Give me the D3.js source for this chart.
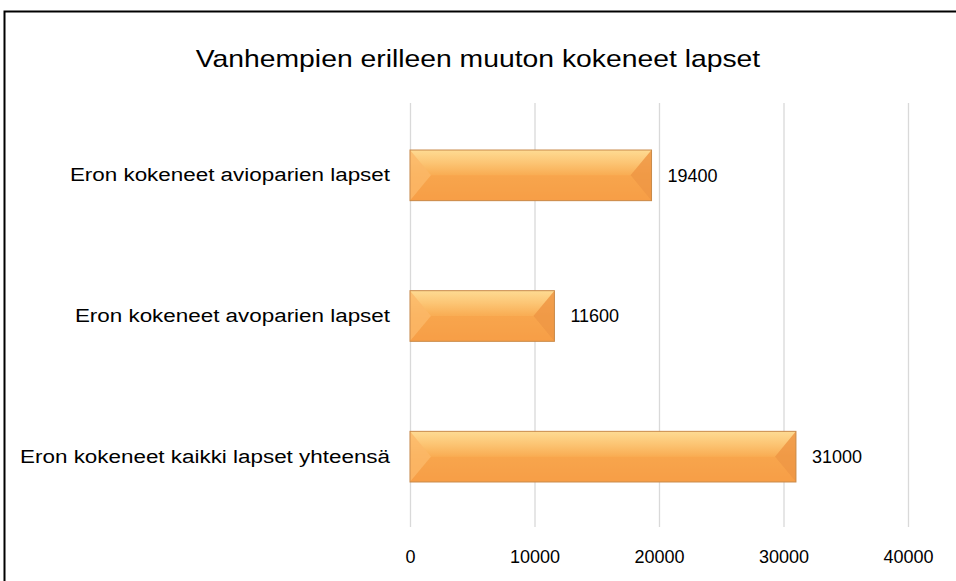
<!DOCTYPE html>
<html>
<head>
<meta charset="utf-8">
<script src="https://cdn.jsdelivr.net/npm/d3@7"></script>
<style>
  body { margin: 0; background: #fff; }
  text { font-family: "Liberation Sans", "DejaVu Sans", sans-serif; fill: #000; }
</style>
</head>
<body>
<div id="chart"></div>
<script>
// Chart data
const categories = ["Eron kokeneet avioparien lapset", "Eron kokeneet avoparien lapset", "Eron kokeneet kaikki lapset yhteensä"];
const values = [19400, 11600, 31000];
const ticks = [0, 10000, 20000, 30000, 40000];
const title = "Vanhempien erilleen muuton kokeneet lapset";

const width = 956, height = 581;
const margin = { top: 105, right: 48, bottom: 54, left: 410 };
const plot_height = height - margin.top - margin.bottom;
const stretch = 1.18; // the original font is wider than Liberation Sans

const svg = d3.select("#chart")
  .append("svg")
  .attr("width", width)
  .attr("height", height);

// widen text horizontally around its own x
function widen(sel) {
  sel.each(function() {
    const x = +this.getAttribute("x") || 0;
    this.setAttribute("x", x / stretch);
    const t = this.getAttribute("transform") || "";
    this.setAttribute("transform", t + " scale(" + stretch + ",1)");
  });
}

// Outer frame
svg.append("rect")
  .attr("x", 4.5).attr("y", 11.5)
  .attr("width", 1000).attr("height", 1000)
  .attr("fill", "none").attr("stroke", "#000").attr("stroke-width", 2);

svg.append("text")
  .attr("x", 478).attr("y", 67)
  .attr("text-anchor", "middle")
  .style("font-size", "24px")
  .text(title)
  .call(widen);

const g = svg.append("g")
  .attr("transform", "translate(" + margin.left + "," + margin.top + ")");

const xScale = d3.scaleLinear().domain([0, 40000]).range([0, 498]);
const yScale = d3.scaleBand().domain(categories).range([0, plot_height]).paddingInner(0.64).paddingOuter(0.32);

// Gridlines
g.selectAll(".grid")
  .data(ticks)
  .enter()
  .append("line")
  .attr("x1", d => xScale(d) + 0.5).attr("x2", d => xScale(d) + 0.5)
  .attr("y1", -2).attr("y2", plot_height)
  .attr("stroke", "#d9d9d9").attr("stroke-width", 1.3);

// X axis labels
const xAxis = g.append("g")
  .attr("transform", "translate(0," + plot_height + ")")
  .call(d3.axisBottom(xScale).tickValues(ticks).tickSize(0).tickPadding(23).tickFormat(d3.format("d")));
xAxis.select(".domain").remove();
xAxis.selectAll("text").style("font-size", "18px").style("font-family", "Liberation Sans");

// Y axis labels
const yAxis = g.append("g")
  .call(d3.axisLeft(yScale).tickSize(0).tickPadding(20));
yAxis.select(".domain").remove();
yAxis.selectAll("text").style("font-size", "19px").style("font-family", "Liberation Sans").call(widen);

// Bevel gradient
const defs = svg.append("defs");
const grad = defs.append("linearGradient").attr("id", "barGrad")
  .attr("x1", 0).attr("y1", 0).attr("x2", 0).attr("y2", 1);
grad.append("stop").attr("offset", "0%").attr("stop-color", "#fedb93");
grad.append("stop").attr("offset", "25%").attr("stop-color", "#fcc574");
grad.append("stop").attr("offset", "48%").attr("stop-color", "#f9ae55");
grad.append("stop").attr("offset", "100%").attr("stop-color", "#f79b45");

const bars = g.selectAll(".bar")
  .data(values)
  .enter()
  .append("g")
  .attr("class", "bar")
  .attr("transform", (d, i) => "translate(0," + yScale(categories[i]) + ")");

const bh = yScale.bandwidth();
const bev = 21;

bars.append("rect")
  .attr("x", 0).attr("y", 0)
  .attr("width", d => xScale(d)).attr("height", bh)
  .attr("fill", "url(#barGrad)");

// left bevel triangle
bars.append("path")
  .attr("d", d => "M0,0 L" + bev + "," + (bh / 2) + " L0," + bh + "Z")
  .attr("fill", "#fbb868").attr("opacity", 0.8);
// right bevel triangle
bars.append("path")
  .attr("d", d => "M" + xScale(d) + ",0 L" + (xScale(d) - bev) + "," + (bh / 2) + " L" + xScale(d) + "," + bh + "Z")
  .attr("fill", "#ef9744").attr("opacity", 0.85);
// bottom strip shading
bars.append("path")
  .attr("d", d => "M0," + bh + " L" + bev + "," + (bh / 2) + " L" + (xScale(d) - bev) + "," + (bh / 2) + " L" + xScale(d) + "," + bh + "Z")
  .attr("fill", "#f6a048").attr("opacity", 0.6);

bars.append("rect")
  .attr("x", 0).attr("y", 0)
  .attr("width", d => xScale(d)).attr("height", bh)
  .attr("fill", "none").attr("stroke", "#c98a4a").attr("stroke-width", 1);

// Value labels
bars.append("text")
  .attr("x", d => xScale(d) + 16)
  .attr("y", bh / 2)
  .attr("dy", "0.35em")
  .style("font-size", "18px")
  .text(d => d);
</script>
</body>
</html>
